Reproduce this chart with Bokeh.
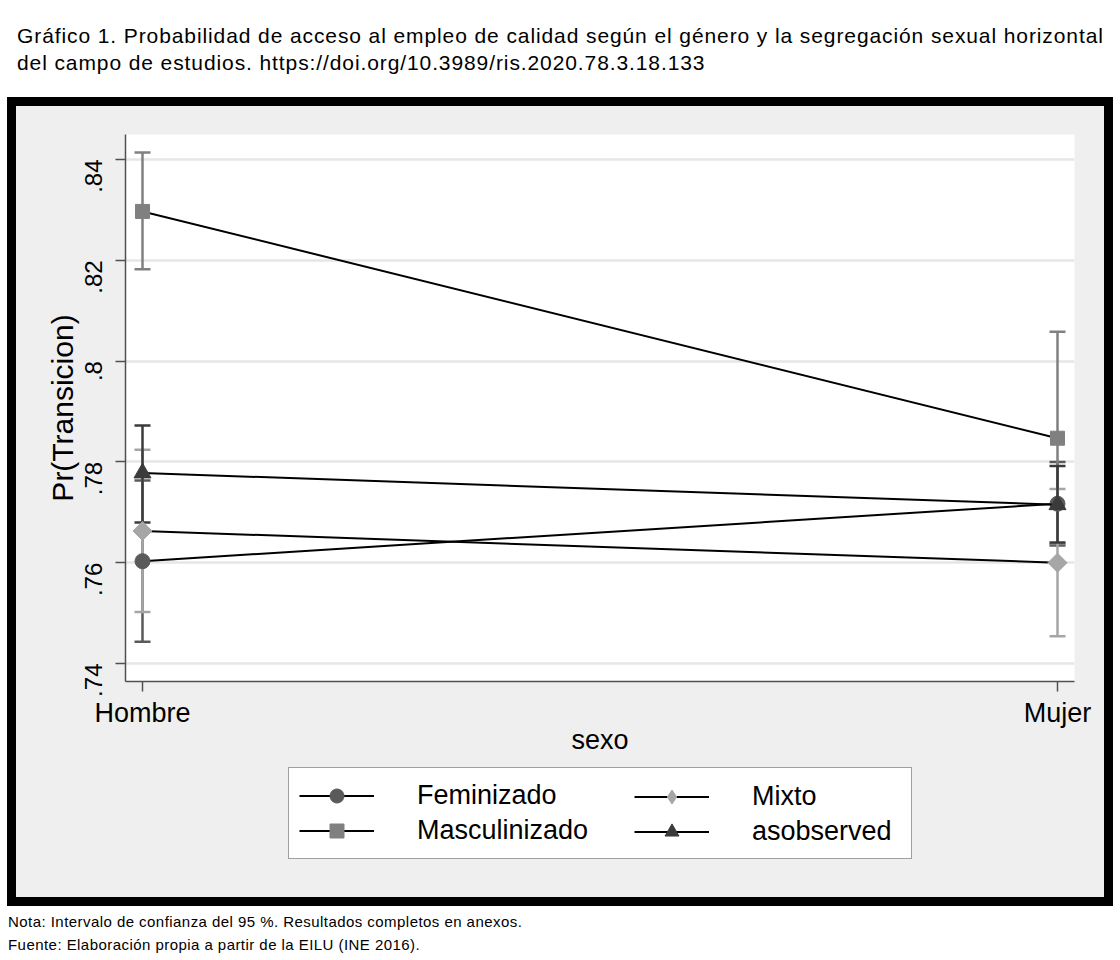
import math
from bokeh.plotting import figure
from bokeh.models import (ColumnDataSource, Whisker, TeeHead, FixedTicker,
                          Legend, LegendItem, Div)
from bokeh.layouts import column
from bokeh.embed import file_html
from bokeh.resources import INLINE

# ---------------- data ----------------
sexo = ["Hombre", "Mujer"]
sexo_pos = [0, 1]

feminizado = [0.7603, 0.7717]
feminizado_lo = [0.7443, 0.7634]
feminizado_hi = [0.7763, 0.7800]

masculinizado = [0.8297, 0.7847]
masculinizado_lo = [0.8182, 0.7637]
masculinizado_hi = [0.8414, 0.8058]

mixto = [0.7663, 0.7600]
mixto_lo = [0.7502, 0.7454]
mixto_hi = [0.7824, 0.7746]

asobserved = [0.7778, 0.7715]
asobserved_lo = [0.7680, 0.7640]
asobserved_hi = [0.7872, 0.7792]

yticks = [0.74, 0.76, 0.78, 0.80, 0.82, 0.84]
ytick_labels = [".74", ".76", ".78", ".8", ".82", ".84"]

FONT = "Liberation Sans"
PANEL = "#efefef"

p = figure(width=1088, height=655, output_backend="svg", toolbar_location=None,
           x_range=(-0.01858, 1.01858), y_range=(0.73643, 0.84496),
           min_border_left=109, min_border_right=30, min_border_top=28,
           min_border_bottom=80,
           background_fill_color="white", border_fill_color=PANEL,
           outline_line_color=None)

# axes
p.xaxis.ticker = FixedTicker(ticks=sexo_pos)
p.xaxis.major_label_overrides = {k: v for k, v in zip(sexo_pos, sexo)}
p.yaxis.ticker = FixedTicker(ticks=yticks)
p.yaxis.major_label_overrides = {k: v for k, v in zip(yticks, ytick_labels)}
p.yaxis.major_label_orientation = math.pi / 2
for ax in (p.xaxis, p.yaxis):
    ax.axis_line_color = "#505050"
    ax.axis_line_width = 1.5
    ax.major_tick_line_color = "#505050"
    ax.major_tick_line_width = 1.5
    ax.major_tick_out = 10
    ax.major_tick_in = 0
    ax.minor_tick_line_color = None
    ax.major_label_text_font = FONT
    ax.major_label_text_color = "black"
    ax.axis_label_text_font = FONT
    ax.axis_label_text_font_style = "normal"
    ax.axis_label_text_color = "black"
p.xaxis.axis_label_text_font_size = "27px"
p.yaxis.axis_label_text_font_size = "30px"
p.xaxis.major_label_text_font_size = "27px"
p.yaxis.major_label_text_font_size = "24px"
p.xaxis.axis_label = "sexo"
p.yaxis.axis_label = "Pr(Transicion)"
p.xaxis.major_label_standoff = 6
p.xaxis.axis_label_standoff = -6
p.yaxis.major_label_standoff = 22
p.yaxis.axis_label_standoff = -5

p.xgrid.visible = False
p.ygrid.ticker = FixedTicker(ticks=yticks)
p.ygrid.grid_line_color = "#e6e6e6"
p.ygrid.grid_line_width = 2.5

# name, values, lower, upper, colour, marker, size, angle, legend-key marker
series = [
    ("Feminizado", feminizado, feminizado_lo, feminizado_hi, "#5a5a5a", "circle", 15, 0.0, "circle"),
    ("Masculinizado", masculinizado, masculinizado_lo, masculinizado_hi, "#808080", "square", 14, 0.0, "square"),
    ("Mixto", mixto, mixto_lo, mixto_hi, "#a6a6a6", "square", 13.5, math.pi / 4, "diamond"),
    ("asobserved", asobserved, asobserved_lo, asobserved_hi, "#3b3b3b", "triangle", 17, 0.0, "triangle"),
]

# legend panel: a second figure below the chart, inside the same grey panel.
# Its ranges lie away from the data, so its key renderers only draw the legend keys.
pl = figure(width=1088, height=136, output_backend="svg", toolbar_location=None,
            x_range=(5, 6), y_range=(5, 6), x_axis_type=None, y_axis_type=None,
            min_border_left=109, min_border_right=30, min_border_top=0,
            min_border_bottom=0,
            background_fill_color=PANEL, border_fill_color=PANEL,
            outline_line_color=None)

items = {}
for name, vals, lo, hi, col, marker, size, ang, key_marker in series:
    src = ColumnDataSource(dict(x=sexo_pos, y=vals, lo=lo, hi=hi))
    w = Whisker(base="x", lower="lo", upper="hi", source=src,
                line_color=col, line_width=2.5,
                upper_head=TeeHead(size=16, line_color=col, line_width=2.5),
                lower_head=TeeHead(size=16, line_color=col, line_width=2.5))
    p.add_layout(w)
    p.line("x", "y", source=src, line_color="black", line_width=2)
    p.scatter("x", "y", source=src, marker=marker, size=size, angle=ang,
              fill_color=col, line_color=col)
    kl = pl.line("x", "y", source=src, line_color="black", line_width=2)
    ks = pl.scatter("x", "y", source=src, marker=key_marker, size=size,
                    fill_color=col, line_color=col)
    items[name] = LegendItem(label=name, renderers=[kl, ks])

common = dict(glyph_width=75, glyph_height=35, label_standoff=43,
              label_text_font=FONT, label_text_font_size="27px",
              label_text_color="black", spacing=0, padding=10,
              margin=0)
leg1 = Legend(items=[items["Feminizado"], items["Masculinizado"]],
              location=(163, 38), label_width=484,
              border_line_color="#404040", border_line_width=1,
              background_fill_color="white", background_fill_alpha=1,
              **common)
leg2 = Legend(items=[items["Mixto"], items["asobserved"]],
              location=(499, 38), border_line_alpha=0,
              background_fill_alpha=0, **common)
pl.add_layout(leg1)
pl.add_layout(leg2)

title_div = Div(
    text=('<div style="font-family:\'Liberation Sans\',Arial;font-size:21px;'
          'letter-spacing:0.9px;line-height:27px;padding:22px 0 0 17px;'
          'white-space:nowrap;color:black">'
          'Gráfico 1. Probabilidad de acceso al empleo de calidad según el género '
          'y la segregación sexual horizontal<br>del campo de estudios. '
          'https://doi.org/10.3989/ris.2020.78.3.18.133</div>'),
    width=1120, height=97, margin=0)

notes_div = Div(
    text=('<div style="font-family:\'Liberation Sans\',Arial;font-size:15px;'
          'letter-spacing:0.45px;line-height:23px;padding:3.5px 0 0 8px;'
          'white-space:nowrap;color:black">'
          'Nota: Intervalo de confianza del 95 %. Resultados completos en anexos.<br>'
          'Fuente: Elaboración propia a partir de la EILU (INE 2016).</div>'),
    width=1120, height=54, margin=0)

inner = column(p, pl, spacing=0, styles={"background-color": PANEL})
frame_box = column(inner, spacing=0, margin=(0, 0, 0, 7),
                   styles={"background-color": "black", "padding": "9px"})
layout = column(title_div, frame_box, notes_div, spacing=0)

open("out.html", "w").write(file_html(layout, INLINE))
